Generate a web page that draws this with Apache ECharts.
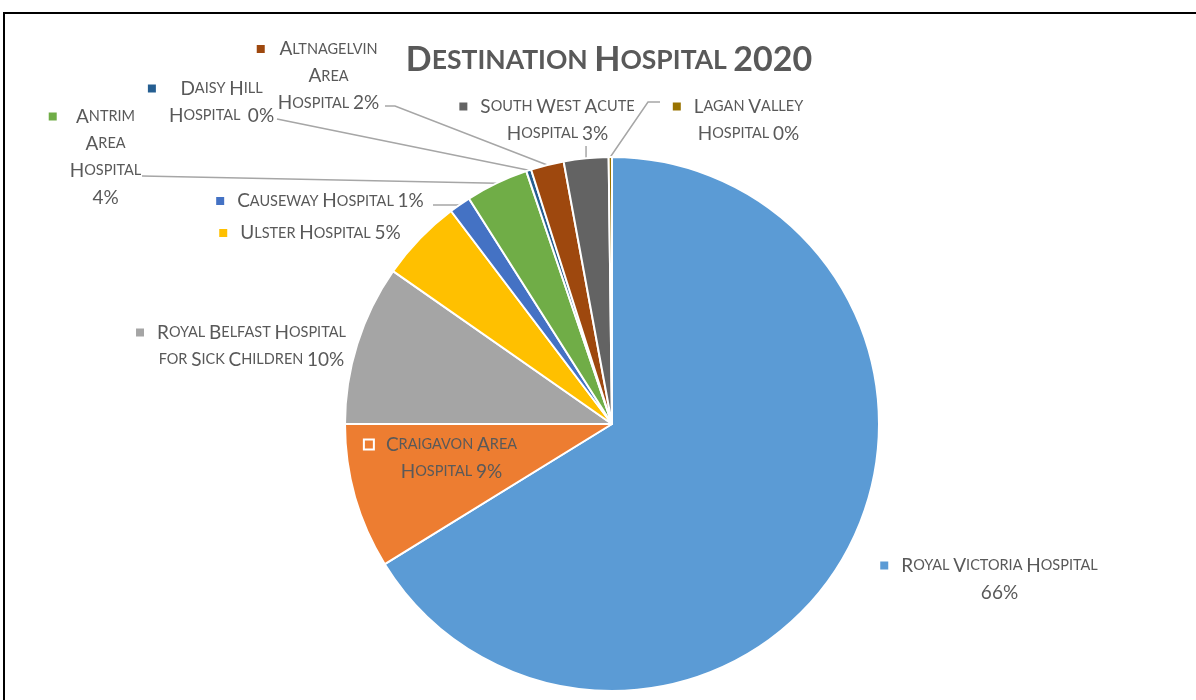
<!DOCTYPE html>
<html>
<head>
<meta charset="utf-8">
<script src="https://cdn.jsdelivr.net/npm/echarts@6/dist/echarts.min.js"></script>
<style>
  html, body { margin: 0; padding: 0; background: #fff; }
  #main { width: 1196px; height: 700px; }
</style>
</head>
<body>
<div id="main"></div>
<script>
// slices, clockwise from 12 o'clock
var names = ['Royal Victoria Hospital', 'Craigavon Area Hospital', 'Royal Belfast Hospital for Sick Children',
  'Ulster Hospital', 'Causeway Hospital', 'Antrim Area Hospital', 'Daisy Hill Hospital',
  'Altnagelvin Area Hospital', 'South West Acute Hospital', 'Lagan Valley Hospital'];
var values = [66.2, 8.8, 9.7, 5.0, 1.3, 3.8, 0.3, 2.0, 2.7, 0.2];
var colors = ['#5B9BD5', '#ED7D31', '#A5A5A5', '#FFC000', '#4472C4', '#70AD47', '#255E91', '#9E480E', '#636363', '#997300'];
// label text with the line breaks used in the picture (percent is appended)
var labelText = ['Royal Victoria Hospital\n', 'Craigavon Area\nHospital ', 'Royal Belfast Hospital\nfor Sick Children ',
  'Ulster Hospital ', 'Causeway Hospital ', 'Antrim\nArea\nHospital\n', 'Daisy Hill\nHospital  ',
  'Altnagelvin\nArea\nHospital ', 'South West Acute\nHospital ', 'Lagan Valley\nHospital '];

// where each label block sits (centre) and its leader line bends
var labelPos = [[989, 579], [441, 458], [241, 346], [310, 233], [320, 201], [95, 157], [211, 102], [318, 76], [547, 120], [738, 120]];
var leaderEnds = [null, null, null, null, [[457, 205], [433, 205]], [[142, 176]], [[277, 119]],
  [[395, 106], [385, 106]], 'up', [[648, 102], [660, 102]]];

var FONT = 'Lato';
var GREY = '#595959';

function smallCaps(str, big, small) {
  var out = '', cur = null, buf = '';
  function flush() { if (buf) out += '{' + cur + '|' + buf + '}'; buf = ''; }
  for (var k = 0; k < str.length; k++) {
    var ch = str[k];
    if (ch === '\n') { flush(); out += '\n'; continue; }
    var lower = ch !== ch.toUpperCase();
    var st = (lower || ch === ' ') ? small : big;
    if (st !== cur) { flush(); cur = st; }
    buf += lower ? ch.toUpperCase() : ch;
  }
  flush();
  return out;
}

var rich = {
  b: { fontFamily: FONT, fontSize: 19, color: GREY, lineHeight: 27, align: 'center' },
  s: { fontFamily: FONT, fontSize: 14.5, color: GREY, lineHeight: 27, align: 'center' },
  gap: { width: 13, height: 1, align: 'left' },
  sp: { width: 21, height: 1, align: 'left' }
};
colors.forEach(function (c, i) {
  rich['mk' + i] = { width: 8, height: 8, backgroundColor: c, align: 'left' };
});
rich.mk1 = { width: 8, height: 8, backgroundColor: colors[1], borderColor: '#fff', borderWidth: 2, align: 'left' };

var data = names.map(function (n, i) {
  return {
    name: n,
    value: values[i],
    itemStyle: { color: colors[i] },
    labelLine: { show: leaderEnds[i] != null }
  };
});

var myChart = echarts.init(document.getElementById('main'));
myChart.setOption({
  animation: false,
  title: {
    text: smallCaps('Destination Hospital 2020', 'tb', 'ts'),
    left: 609,
    top: 40,
    padding: 0,
    textAlign: 'center',
    textStyle: {
      rich: {
        tb: { fontFamily: FONT, fontSize: 34, fontWeight: 'bold', color: GREY, lineHeight: 40 },
        ts: { fontFamily: FONT, fontSize: 26.5, fontWeight: 'bold', color: GREY, lineHeight: 40 }
      }
    }
  },
  graphic: [{
    type: 'rect',
    shape: { x: 4, y: 13, width: 1400, height: 900 },
    style: { fill: 'none', stroke: '#000', lineWidth: 2 },
    silent: true
  }],
  series: [{
    type: 'pie',
    center: [612, 424],
    radius: 267,
    startAngle: 90,
    clockwise: true,
    avoidLabelOverlap: false,
    emphasis: { disabled: true },
    itemStyle: { borderColor: '#fff', borderWidth: 2 },
    label: {
      show: true,
      position: 'outside',
      rich: rich,
      formatter: function (p) {
        var i = p.dataIndex;
        var lines = (labelText[i] + Math.round(p.percent) + '%').split('\n');
        return lines.map(function (ln, k) {
          return (k === 0 ? '{mk' + i + '|}{gap|}' : (lines.length > 1 ? '{sp|}' : '')) + smallCaps(ln, 'b', 's');
        }).join('\n');
      }
    },
    labelLine: {
      length: 10,
      length2: 10,
      lineStyle: { color: '#A6A6A6', width: 1.5 }
    },
    labelLayout: function (p) {
      var i = p.dataIndex;
      var res = { x: labelPos[i][0], y: labelPos[i][1], align: 'center', verticalAlign: 'middle' };
      var ends = leaderEnds[i];
      if (ends && p.labelLinePoints) {
        var edge = p.labelLinePoints[0];
        if (ends === 'up') {
          res.labelLinePoints = [edge, [edge[0], 146]];
        } else {
          res.labelLinePoints = [edge].concat(ends);
        }
      }
      return res;
    },
    data: data
  }]
});
</script>
</body>
</html>
